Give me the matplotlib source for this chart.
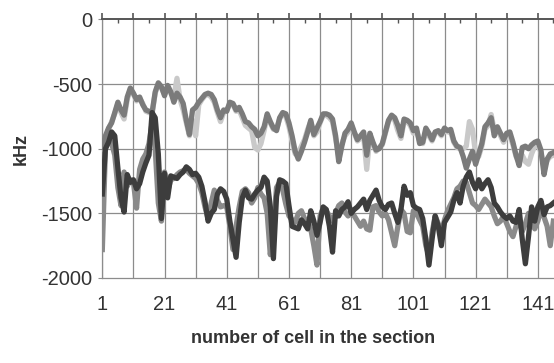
import numpy as np
import matplotlib.pyplot as plt
from matplotlib.ticker import FixedLocator

# =======================
# data (kHz per cell)
# =======================
cells = np.arange(1, 147)

upper_dark = [
    -990, -900, -840, -800, -720, -640, -700, -740, -600, -530,
    -570, -620, -600, -660, -700, -710, -720, -560, -490, -520,
    -590, -510, -560, -640, -570, -600, -650, -780, -890, -700,
    -680, -640, -610, -580, -570, -580, -620, -700, -760, -700,
    -710, -640, -650, -700, -680, -730, -790, -800, -830, -850,
    -900, -880, -830, -730, -790, -840, -860, -760, -720, -730,
    -800, -900, -1020, -1080, -1020, -950, -870, -780, -890, -840,
    -790, -730, -730, -740, -770, -900, -1100, -980, -880, -850,
    -800, -870, -930, -900, -870, -1050, -880, -950, -1010, -1000,
    -960, -870, -780, -740, -760, -820, -900, -770, -780, -800,
    -860, -840, -960, -950, -840, -880, -930, -870, -860, -890,
    -840, -860, -850, -940, -980, -990, -1060, -1150, -1080, -1020,
    -1120, -1040, -960, -830, -800, -760, -900, -830, -880, -930,
    -880, -870, -950, -1050, -1130, -990, -980, -1000, -970, -950,
    -940, -1010, -1200, -1080, -1040, -1030,
]

upper_light = [
    -1000, -920, -850, -790, -730, -650, -720, -770, -620, -540,
    -580, -630, -610, -650, -710, -720, -730, -570, -500, -530,
    -580, -520, -570, -600, -455, -620, -700, -800, -900, -780,
    -900, -660, -620, -590, -580, -600, -640, -720, -790, -720,
    -700, -650, -660, -710, -700, -760, -820, -840, -860, -990,
    -1010, -960, -860, -750, -800, -850, -850, -770, -730, -750,
    -830, -940, -1040, -1030, -980, -930, -850, -790, -900, -870,
    -800, -740, -740, -760, -790, -920, -1060, -960, -900, -870,
    -820, -880, -940, -920, -900, -1160, -900, -960, -1020, -990,
    -970, -880, -790, -750, -780, -860, -920, -790, -790, -820,
    -880, -860, -940, -960, -860, -900, -940, -880, -870, -900,
    -860, -870, -870, -950, -990, -1000, -1000, -980, -790, -850,
    -1040, -1060, -980, -850, -820, -735, -860, -850, -900, -950,
    -900, -900, -970, -1060, -1100, -1050, -1100, -1120, -1040, -980,
    -960, -1030, -1150, -1090, -1060, -1050,
]

lower_dark = [
    -1350, -1000, -950, -870, -900, -1150, -1380, -1490, -1200, -1260,
    -1240, -1310, -1270, -1180, -1110, -1050, -720, -760, -1040, -1540,
    -1190, -1380, -1210, -1220, -1230, -1200, -1180, -1140, -1160, -1200,
    -1190, -1220, -1290, -1410, -1560, -1500, -1470, -1350, -1310, -1330,
    -1390, -1560, -1700, -1840, -1570, -1380, -1320, -1380, -1390, -1350,
    -1320, -1300, -1220, -1250, -1450, -1850, -1370, -1240, -1250, -1270,
    -1440, -1600, -1610, -1620, -1550, -1580, -1620, -1480, -1560, -1670,
    -1570, -1450, -1470, -1600, -1800, -1480, -1520, -1470, -1450, -1410,
    -1500, -1470, -1450, -1420, -1390, -1470, -1400, -1360, -1320, -1400,
    -1450, -1470, -1430, -1420, -1500, -1570, -1470, -1290, -1360, -1340,
    -1440, -1460, -1470, -1540, -1700, -1900, -1700, -1520, -1600, -1750,
    -1570, -1530, -1490, -1400, -1340, -1420, -1290, -1220, -1180, -1260,
    -1310, -1240, -1310, -1270, -1240, -1300, -1420, -1450, -1490, -1520,
    -1540, -1520, -1560, -1570, -1470, -1700, -1890, -1680, -1450, -1560,
    -1450, -1400, -1510, -1450, -1440, -1420,
]

lower_mid = [
    -1780, -1000, -900, -960, -1050, -1300, -1440, -1180, -1290, -1240,
    -1260, -1460, -1160, -1080, -1040, -960, -800, -1000, -1420, -1560,
    -1180, -1330, -1240, -1230, -1200, -1180, -1170, -1160, -1190, -1210,
    -1230, -1270, -1340, -1450, -1540, -1420, -1320, -1400, -1450, -1440,
    -1450, -1600, -1780, -1600, -1450, -1330, -1310, -1340, -1420, -1380,
    -1300, -1350, -1380, -1500, -1820, -1620, -1300, -1260, -1320, -1430,
    -1520, -1550, -1570, -1500, -1480, -1540, -1560, -1620, -1750, -1900,
    -1520, -1460, -1480, -1520, -1560, -1500, -1440, -1420, -1490, -1520,
    -1500, -1520, -1560, -1600, -1560, -1620, -1630, -1450, -1440, -1490,
    -1520, -1500, -1550, -1650, -1750, -1600, -1470, -1500, -1640, -1650,
    -1480, -1500, -1550, -1600, -1750, -1830, -1650, -1520, -1580, -1660,
    -1550, -1480, -1430, -1380, -1310, -1290, -1250, -1260, -1340, -1420,
    -1440, -1470, -1430, -1390, -1420, -1450, -1520, -1580, -1560, -1520,
    -1580, -1640, -1680, -1600, -1560, -1640, -1580, -1500, -1560, -1620,
    -1560, -1470, -1530, -1600, -1750, -1560,
]

grid_cells = list(range(1, 147, 10))
label_cells = list(range(1, 147, 20))

# =======================
# plotting
# =======================
plt.rcParams['font.family'] = ['Liberation Sans Narrow', 'Liberation Sans', 'DejaVu Sans']

fig = plt.figure(figsize=(5.54, 3.63), dpi=100)
ax = fig.add_axes([0.1847, 0.2342, 1.0 - 0.1847, 0.9463 - 0.2342])

lw = 3.8
ax.plot(cells, upper_light, color="#c9c9c9", lw=lw, zorder=3)
ax.plot(cells, upper_dark, color="#7b7b7b", lw=lw, zorder=4)
ax.plot(cells, lower_mid, color="#8a8a8a", lw=lw, zorder=3)
ax.plot(cells, lower_dark, color="#3d3d3d", lw=lw, zorder=4)

ax.set_xlim(1, 146.2)
ax.set_ylim(-2000, 0)

# grid
for c in grid_cells:
    ax.axvline(c, color="#8c8c8c", lw=0.9, zorder=1)
for v in [-500, -1000, -1500]:
    ax.axhline(v, color="#8c8c8c", lw=0.9, zorder=1)

# spines
for s in ["left", "bottom"]:
    ax.spines[s].set_color("#8c8c8c")
    ax.spines[s].set_linewidth(0.9)
ax.spines["right"].set_visible(False)
ax.spines["top"].set_color("#555555")
ax.spines["top"].set_linewidth(1.4)

# x ticks: marks on the top line, labels at the bottom
ax.xaxis.set_major_locator(FixedLocator(grid_cells))
ax.set_xticklabels([str(c) if c in label_cells else "" for c in grid_cells])
ax.xaxis.set_minor_locator(FixedLocator([c + 5 for c in grid_cells]))
ax.tick_params(axis="x", which="major", top=True, bottom=False, direction="out",
               length=4, width=1.2, color="#555555", labelbottom=True,
               labelsize=14.5, labelcolor="#333333", pad=8)
ax.tick_params(axis="x", which="minor", top=True, bottom=False, direction="in",
               length=3, width=1.0, color="#555555")

ax.set_yticks([0, -500, -1000, -1500, -2000])
ax.set_yticklabels(["0", "-500", "-1000", "-1500", "-2000"])
ax.tick_params(axis="y", length=3, color="#8c8c8c", labelsize=14.5,
               labelcolor="#333333", pad=4)

ax.set_xlabel("number of cell in the section", fontsize=13, fontweight="bold",
              color="#333333")
ax.xaxis.set_label_coords((313 - 102.3) / (554 - 102.3), -0.2)
ax.set_ylabel("kHz", fontsize=13, fontweight="bold", color="#333333")
ax.yaxis.set_label_coords(-0.16, 0.5)

fig.savefig("out.png", dpi=100)
